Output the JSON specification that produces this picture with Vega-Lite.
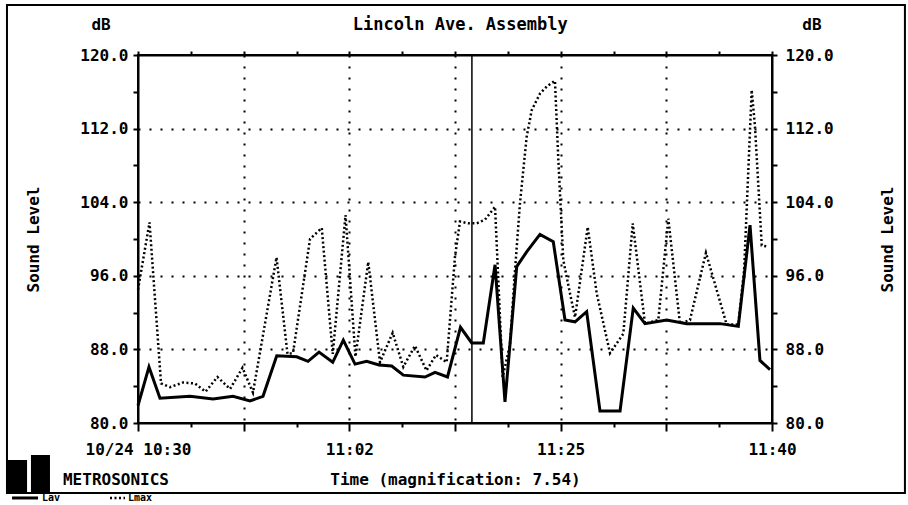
{
  "$schema": "https://vega.github.io/schema/vega-lite/v6.json",
  "width": 634,
  "height": 368,
  "autosize": "none",
  "padding": {"left": 138, "top": 55, "right": 136, "bottom": 82},
  "background": "white",
  "config": {
    "view": {"stroke": "black", "strokeWidth": 2},
    "font": "DejaVu Sans Mono",
    "axis": {
      "labelFont": "DejaVu Sans Mono", "labelFontSize": 16, "labelFontWeight": "bold", "labelColor": "black",
      "titleFont": "DejaVu Sans Mono", "titleFontSize": 16, "titleFontWeight": "bold", "titleColor": "black",
      "tickColor": "black", "tickWidth": 2, "domainColor": "black", "domainWidth": 2,
      "gridColor": "black", "gridDash": [2, 9], "gridWidth": 2,
      "labelOverlap": false, "labelBound": false, "labelFlush": false
    }
  },
  "datasets": {
    "leq": [
      {"t": 0, "leq": 81.9}, {"t": 0.104, "leq": 86.1}, {"t": 0.208, "leq": 82.7}, {"t": 0.492, "leq": 82.9},
      {"t": 0.71, "leq": 82.6}, {"t": 0.899, "leq": 82.9}, {"t": 1.06, "leq": 82.4}, {"t": 1.183, "leq": 82.9},
      {"t": 1.313, "leq": 87.3}, {"t": 1.502, "leq": 87.2}, {"t": 1.609, "leq": 86.7}, {"t": 1.713, "leq": 87.7},
      {"t": 1.843, "leq": 86.6}, {"t": 1.943, "leq": 89.0}, {"t": 2.054, "leq": 86.4}, {"t": 2.164, "leq": 86.7},
      {"t": 2.281, "leq": 86.3}, {"t": 2.401, "leq": 86.2}, {"t": 2.511, "leq": 85.2}, {"t": 2.716, "leq": 85.0},
      {"t": 2.811, "leq": 85.5}, {"t": 2.929, "leq": 85.0}, {"t": 3.052, "leq": 90.4}, {"t": 3.158, "leq": 88.7},
      {"t": 3.268, "leq": 88.7}, {"t": 3.379, "leq": 97.2}, {"t": 3.473, "leq": 82.3}, {"t": 3.584, "leq": 97.0},
      {"t": 3.678, "leq": 98.6}, {"t": 3.804, "leq": 100.5}, {"t": 3.93, "leq": 99.7}, {"t": 4.041, "leq": 91.2},
      {"t": 4.136, "leq": 91.0}, {"t": 4.246, "leq": 92.1}, {"t": 4.372, "leq": 81.3}, {"t": 4.562, "leq": 81.3},
      {"t": 4.687, "leq": 92.5}, {"t": 4.798, "leq": 90.8}, {"t": 5.003, "leq": 91.2}, {"t": 5.193, "leq": 90.8},
      {"t": 5.508, "leq": 90.8}, {"t": 5.681, "leq": 90.5}, {"t": 5.792, "leq": 101.5}, {"t": 5.886, "leq": 86.8},
      {"t": 5.981, "leq": 85.8}
    ],
    "lmax": [
      {"t": 0, "lmax": 94.5}, {"t": 0.109, "lmax": 101.8}, {"t": 0.218, "lmax": 84.3}, {"t": 0.303, "lmax": 83.9},
      {"t": 0.426, "lmax": 84.4}, {"t": 0.539, "lmax": 84.3}, {"t": 0.639, "lmax": 83.4}, {"t": 0.752, "lmax": 85.0},
      {"t": 0.871, "lmax": 83.7}, {"t": 0.989, "lmax": 86.0}, {"t": 1.088, "lmax": 83.3}, {"t": 1.311, "lmax": 98.0},
      {"t": 1.415, "lmax": 87.5}, {"t": 1.467, "lmax": 87.6}, {"t": 1.628, "lmax": 100.0}, {"t": 1.739, "lmax": 101.2},
      {"t": 1.843, "lmax": 87.5}, {"t": 1.964, "lmax": 102.6}, {"t": 2.058, "lmax": 87.2}, {"t": 2.179, "lmax": 97.5},
      {"t": 2.29, "lmax": 86.6}, {"t": 2.41, "lmax": 89.8}, {"t": 2.511, "lmax": 86.1}, {"t": 2.621, "lmax": 88.4},
      {"t": 2.73, "lmax": 85.7}, {"t": 2.82, "lmax": 87.4}, {"t": 2.921, "lmax": 86.6}, {"t": 3.0, "lmax": 98.1},
      {"t": 3.047, "lmax": 101.9}, {"t": 3.126, "lmax": 101.7}, {"t": 3.205, "lmax": 101.7}, {"t": 3.284, "lmax": 102.1},
      {"t": 3.379, "lmax": 103.5}, {"t": 3.451, "lmax": 85.0}, {"t": 3.52, "lmax": 88.5}, {"t": 3.568, "lmax": 96.6},
      {"t": 3.615, "lmax": 103.9}, {"t": 3.678, "lmax": 111.1}, {"t": 3.726, "lmax": 114.0}, {"t": 3.804, "lmax": 115.8},
      {"t": 3.871, "lmax": 116.6}, {"t": 3.946, "lmax": 117.2}, {"t": 3.978, "lmax": 108.6}, {"t": 4.025, "lmax": 97.7},
      {"t": 4.088, "lmax": 94.1}, {"t": 4.136, "lmax": 91.5}, {"t": 4.256, "lmax": 101.3}, {"t": 4.341, "lmax": 94.1},
      {"t": 4.467, "lmax": 87.6}, {"t": 4.593, "lmax": 89.7}, {"t": 4.682, "lmax": 101.7}, {"t": 4.798, "lmax": 90.8},
      {"t": 4.924, "lmax": 91.2}, {"t": 5.019, "lmax": 102.2}, {"t": 5.129, "lmax": 90.8}, {"t": 5.224, "lmax": 91.2},
      {"t": 5.375, "lmax": 98.5}, {"t": 5.571, "lmax": 90.7}, {"t": 5.681, "lmax": 90.7}, {"t": 5.736, "lmax": 96.6},
      {"t": 5.808, "lmax": 116.2}, {"t": 5.839, "lmax": 112.2}, {"t": 5.903, "lmax": 99.3}, {"t": 5.95, "lmax": 99.2}
    ]
  },
  "layer": [
    {
      "data": {"name": "lmax"},
      "mark": {"type": "line", "color": "black", "strokeWidth": 2.5, "strokeDash": [2, 2.5], "clip": false},
      "encoding": {
        "x": {"field": "t", "type": "quantitative", "scale": {"domain": [0, 6], "nice": false},
          "axis": {"orient": "bottom", "values": [0, 0.5, 1, 1.5, 2, 2.5, 3, 3.5, 4, 4.5, 5, 5.5, 6],
            "labelExpr": "datum.value == 0 ? '10/24 10:30' : datum.value == 2 ? '11:02' : datum.value == 4 ? '11:25' : datum.value == 6 ? '11:40' : ''",
            "tickSize": {"condition": {"test": "datum.value % 1 == 0", "value": 8}, "value": 4},
            "labelPadding": 10, "grid": true,
            "gridOpacity": {"condition": {"test": "datum.value > 0.1 && datum.value < 5.9 && datum.value % 1 == 0", "value": 1}, "value": 0},
            "title": "Time (magnification: 7.54)", "titlePadding": 14}},
        "y": {"field": "lmax", "type": "quantitative", "scale": {"domain": [80, 120], "nice": false, "zero": false},
          "axis": {"orient": "left", "values": [80, 84, 88, 92, 96, 100, 104, 108, 112, 116, 120],
            "labelExpr": "datum.value % 8 == 0 ? format(datum.value, '.1f') : ''",
            "tickSize": 5, "labelPadding": 5, "grid": true,
            "gridOpacity": {"condition": {"test": "datum.value % 8 == 0 && datum.value > 80 && datum.value < 120", "value": 1}, "value": 0},
            "title": "Sound Level", "titlePadding": 38}}
      }
    },
    {
      "data": {"name": "leq"},
      "mark": {"type": "line", "color": "black", "strokeWidth": 3, "clip": false},
      "encoding": {
        "x": {"field": "t", "type": "quantitative", "scale": {"domain": [0, 6], "nice": false},
          "axis": {"orient": "top", "values": [0, 0.5, 1, 1.5, 2, 2.5, 3, 3.5, 4, 4.5, 5, 5.5, 6],
            "labels": false, "tickSize": 4, "grid": false, "title": null}},
        "y": {"field": "leq", "type": "quantitative", "scale": {"domain": [80, 120], "nice": false, "zero": false},
          "axis": {"orient": "right", "values": [80, 84, 88, 92, 96, 100, 104, 108, 112, 116, 120],
            "labelExpr": "datum.value % 8 == 0 ? format(datum.value, '.1f') : ''",
            "tickSize": 5, "labelPadding": 8, "grid": false,
            "title": "Sound Level", "titleAngle": 270, "titlePadding": 62}}
      }
    },
    {
      "data": {"values": [{}]},
      "mark": {"type": "rule", "color": "black", "strokeWidth": 1.5},
      "encoding": {
        "x": {"datum": 3.16, "type": "quantitative", "scale": {"domain": [0, 6], "nice": false}, "axis": null}
      }
    },
    {
      "data": {"values": [{}]},
      "mark": {"type": "rect", "fill": null, "fillOpacity": 0, "stroke": "black", "strokeWidth": 2, "clip": false},
      "encoding": {
        "x": {"datum": -1.24, "type": "quantitative", "scale": {"domain": [0, 6], "nice": false}, "axis": null},
        "x2": {"datum": 7.258},
        "y": {"datum": 125.43, "type": "quantitative", "scale": {"domain": [80, 120], "nice": false, "zero": false}, "axis": null},
        "y2": {"datum": 72.39}
      }
    },
    {
      "data": {"values": [{}]},
      "mark": {"type": "rect", "color": "black", "clip": false},
      "encoding": {
        "x": {"datum": -1.24, "type": "quantitative", "scale": {"domain": [0, 6], "nice": false}, "axis": null},
        "x2": {"datum": -1.05},
        "y": {"datum": 75.98, "type": "quantitative", "scale": {"domain": [80, 120], "nice": false, "zero": false}, "axis": null},
        "y2": {"datum": 72.5}
      }
    },
    {
      "data": {"values": [{}]},
      "mark": {"type": "rect", "color": "black", "clip": false},
      "encoding": {
        "x": {"datum": -1.013, "type": "quantitative", "scale": {"domain": [0, 6], "nice": false}, "axis": null},
        "x2": {"datum": -0.833},
        "y": {"datum": 76.52, "type": "quantitative", "scale": {"domain": [80, 120], "nice": false, "zero": false}, "axis": null},
        "y2": {"datum": 72.5}
      }
    },
    {
      "data": {"values": [{}]},
      "mark": {"type": "rule", "color": "black", "strokeWidth": 3, "clip": false},
      "encoding": {
        "x": {"datum": -1.192, "type": "quantitative", "scale": {"domain": [0, 6], "nice": false}, "axis": null},
        "x2": {"datum": -0.946},
        "y": {"datum": 71.85, "type": "quantitative", "scale": {"domain": [80, 120], "nice": false, "zero": false}, "axis": null}
      }
    },
    {
      "data": {"values": [{}]},
      "mark": {"type": "rule", "color": "black", "strokeWidth": 2.5, "strokeDash": [2, 2.5], "clip": false},
      "encoding": {
        "x": {"datum": -0.265, "type": "quantitative", "scale": {"domain": [0, 6], "nice": false}, "axis": null},
        "x2": {"datum": -0.123},
        "y": {"datum": 71.85, "type": "quantitative", "scale": {"domain": [80, 120], "nice": false, "zero": false}, "axis": null}
      }
    },
    {
      "data": {"values": [{"label": "Lincoln Ave. Assembly", "tx": 3.05, "ty": 123.26}]},
      "mark": {"type": "text", "font": "DejaVu Sans Mono", "fontSize": 17, "fontWeight": "bold", "color": "black", "align": "center", "baseline": "middle", "clip": false},
      "encoding": {
        "x": {"field": "tx", "type": "quantitative", "scale": {"domain": [0, 6], "nice": false}, "axis": null},
        "y": {"field": "ty", "type": "quantitative", "scale": {"domain": [80, 120], "nice": false, "zero": false}, "axis": null},
        "text": {"field": "label"}
      }
    },
    {
      "data": {"values": [
        {"label": "dB", "tx": -0.35, "ty": 123.26},
        {"label": "dB", "tx": 6.378, "ty": 123.26}
      ]},
      "mark": {"type": "text", "font": "DejaVu Sans Mono", "fontSize": 16, "fontWeight": "bold", "color": "black", "align": "center", "baseline": "middle", "clip": false},
      "encoding": {
        "x": {"field": "tx", "type": "quantitative", "scale": {"domain": [0, 6], "nice": false}, "axis": null},
        "y": {"field": "ty", "type": "quantitative", "scale": {"domain": [80, 120], "nice": false, "zero": false}, "axis": null},
        "text": {"field": "label"}
      }
    },
    {
      "data": {"values": [{"label": "METROSONICS", "tx": -0.71, "ty": 73.8}]},
      "mark": {"type": "text", "font": "DejaVu Sans Mono", "fontSize": 16, "fontWeight": "bold", "color": "black", "align": "left", "baseline": "middle", "clip": false},
      "encoding": {
        "x": {"field": "tx", "type": "quantitative", "scale": {"domain": [0, 6], "nice": false}, "axis": null},
        "y": {"field": "ty", "type": "quantitative", "scale": {"domain": [80, 120], "nice": false, "zero": false}, "axis": null},
        "text": {"field": "label"}
      }
    },
    {
      "data": {"values": [
        {"label": "Lav", "tx": -0.908, "ty": 71.85},
        {"label": "Lmax", "tx": -0.095, "ty": 71.85}
      ]},
      "mark": {"type": "text", "font": "DejaVu Sans Mono", "fontSize": 10, "fontWeight": "bold", "color": "black", "align": "left", "baseline": "middle", "clip": false},
      "encoding": {
        "x": {"field": "tx", "type": "quantitative", "scale": {"domain": [0, 6], "nice": false}, "axis": null},
        "y": {"field": "ty", "type": "quantitative", "scale": {"domain": [80, 120], "nice": false, "zero": false}, "axis": null},
        "text": {"field": "label"}
      }
    }
  ],
  "resolve": {"axis": {"x": "independent", "y": "independent"}}
}
